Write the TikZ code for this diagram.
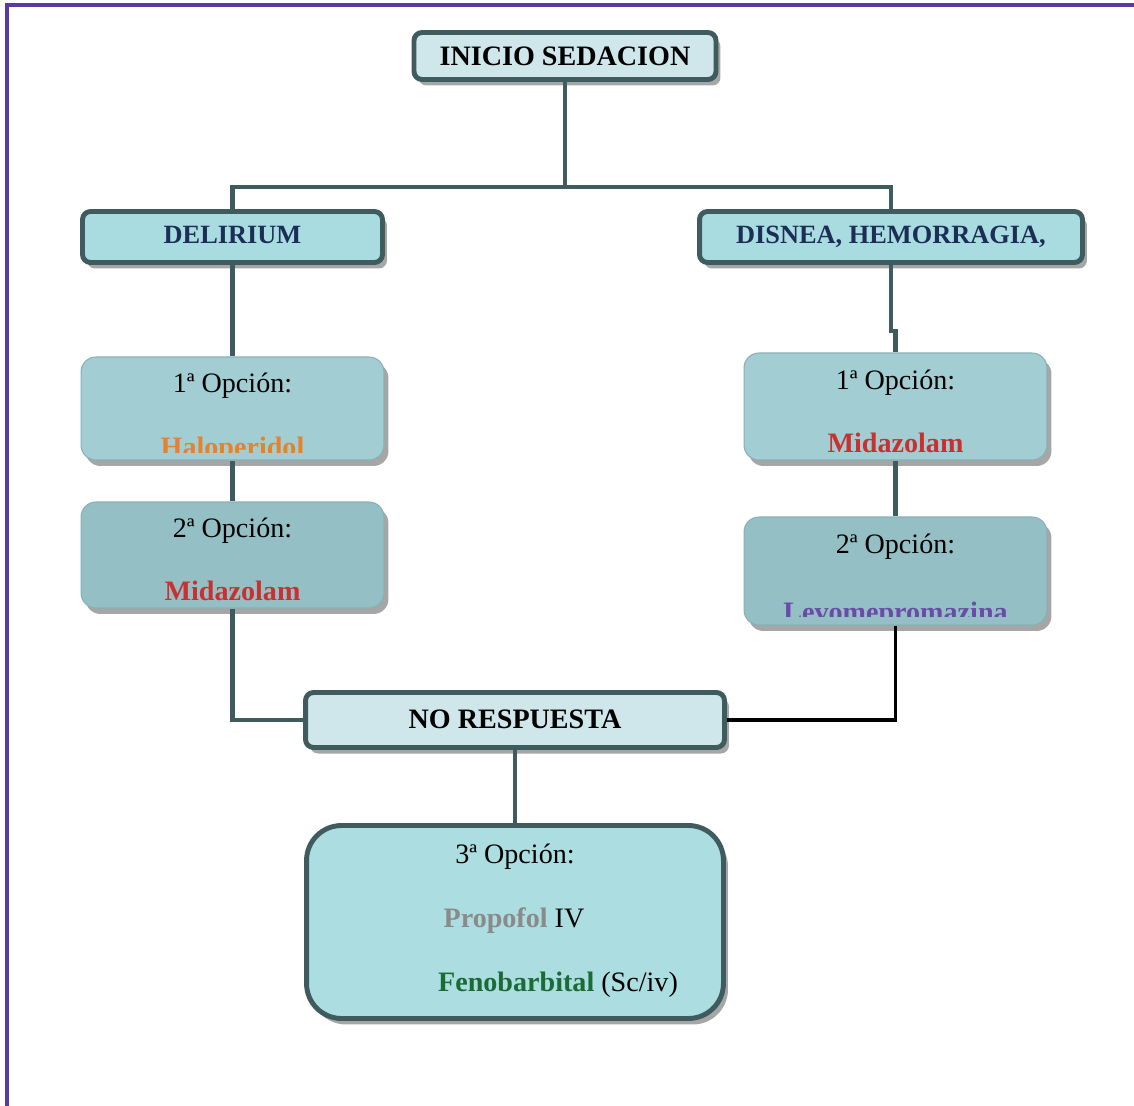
\documentclass[tikz,border=0pt]{standalone}
\usepackage{fontspec}
\setmainfont{Liberation Serif}
\usetikzlibrary{shadows}

\definecolor{edge}{HTML}{3F5B5E}
\definecolor{frame}{HTML}{5A3C9E}
\definecolor{palefill}{HTML}{CFE6EA}
\definecolor{headfill}{HTML}{A9DCE0}
\definecolor{optafill}{HTML}{A2CDD2}
\definecolor{optbfill}{HTML}{94C0C5}
\definecolor{lastfill}{HTML}{ACDDE0}
\definecolor{optedge}{HTML}{86B0B5}
\definecolor{navy}{HTML}{1C2E55}
\definecolor{drugorange}{HTML}{E4832F}
\definecolor{drugred}{HTML}{C8312F}
\definecolor{drugpurple}{HTML}{6A4BA8}
\definecolor{druggrey}{HTML}{8A8A8A}
\definecolor{druggreen}{HTML}{1A6B35}

\newcommand{\txtfont}{\fontsize{16}{19}\selectfont}
\newcommand{\hdfont}{\fontsize{15}{18}\selectfont\bfseries}

\tikzstyle{shade} = [drop shadow={fill=black, opacity=0.35, shadow xshift=0.09cm, shadow yshift=-0.12cm}]
\tikzstyle{titlebox} = [rectangle, rounded corners=0.16cm, draw=edge, line width=2.8pt, fill=palefill, inner sep=0pt, shade]
\tikzstyle{headbox} = [rectangle, rounded corners=0.16cm, draw=edge, line width=2.8pt, fill=headfill, inner sep=0pt, shade]
\tikzstyle{optbox} = [rectangle, rounded corners=0.3cm, draw=optedge, line width=0.6pt, inner sep=0pt, minimum width=6.06cm, shade]
\tikzstyle{txt} = [anchor=base, inner sep=0pt, font=\txtfont]
\tikzstyle{line} = [draw=edge, line width=2.3pt]

\begin{document}
\begin{tikzpicture}[x=0.02cm, y=-0.02cm]
\useasboundingbox (0,0) rectangle (1134,1106);

% frame
\draw[frame, line width=0.08cm] (7,1106) -- (7,5) -- (1134,5);

% top
\node (inicio) [titlebox, minimum width=6.04cm, minimum height=0.94cm] at (565,56) {};
\node (inicioT) [txt, font=\fontsize{16}{19}\selectfont\bfseries] at (565,65) {INICIO SEDACION};

\node (delirium) [headbox, minimum width=6cm, minimum height=1.02cm] at (232.5,237) {};
\node (deliriumT) [txt, font=\hdfont, text=navy] at (232.5,243) {DELIRIUM};
\node (disnea) [headbox, minimum width=7.66cm, minimum height=1.02cm] at (891,237) {};
\node (disneaT) [txt, font=\hdfont, text=navy] at (891,243) {DISNEA, HEMORRAGIA,};

% left column
\node (opt1l) [optbox, fill=optafill, minimum height=2.06cm] at (232.5,408.5) {};
\node (opt1lT) [txt] at (232.5,392) {1ª Opción:};
\begin{scope}
\clip (81,357) rectangle (385,452);
\node (halo) [txt, font=\txtfont\bfseries, text=drugorange] at (232.5,456) {Haloperidol};
\end{scope}

\node (opt2l) [optbox, fill=optbfill, minimum height=2.12cm] at (232.5,555) {};
\node (opt2lT) [txt] at (232.5,537) {2ª Opción:};
\node (mida1) [txt, font=\txtfont\bfseries, text=drugred] at (232.5,600) {Midazolam};

% right column
\node (opt1r) [optbox, fill=optafill, minimum height=2.14cm] at (895.5,406.5) {};
\node (opt1rT) [txt] at (895.5,389) {1ª Opción:};
\node (mida2) [txt, font=\txtfont\bfseries, text=drugred] at (895.5,452) {Midazolam};

\node (opt2r) [optbox, fill=optbfill, minimum height=2.16cm] at (895.5,571) {};
\node (opt2rT) [txt] at (895.5,553) {2ª Opción:};
\begin{scope}
\clip (744,517) rectangle (1047,616);
\node (levo) [txt, font=\txtfont\bfseries, text=drugpurple] at (895.5,621) {Levomepromazina};
\end{scope}

% bottom
\node (nores) [titlebox, minimum width=8.38cm, minimum height=1.1cm] at (515,720) {};
\node (noresT) [txt, font=\txtfont\bfseries] at (515,728) {NO RESPUESTA};

\node (last) [rectangle, rounded corners=0.7cm, draw=edge, line width=2.8pt, fill=lastfill, inner sep=0pt, minimum width=8.34cm, minimum height=3.86cm, shade] at (515,922) {};
\node (lastT) [txt] at (515,863) {3ª Opción:};
\node (propo) [txt] at (514,927) {\textbf{\textcolor{druggrey}{Propofol}} IV};
\node (feno) [txt] at (558,991) {\textbf{\textcolor{druggreen}{Fenobarbital}} (Sc/iv)};

% connectors
\coordinate (split) at (565,187);
\coordinate (jogR) at (895.5,331);
\draw[line] (inicio.south) -- (split);
\draw[line] (split) -| (delirium.north);
\draw[line] (split) -| (disnea.north);
\draw[line] (delirium.south) -- (opt1l.north);
\draw[line] (opt1l.south) -- (opt2l.north);
\draw[line] (opt2l.south) |- (nores.west);
\draw[line] (disnea.south) |- (jogR) -- (opt1r.north);
\draw[line] (opt1r.south) -- (opt2r.north);
\draw[black, line width=2pt] (opt2r.south) |- (nores.east);
\draw[line] (nores.south) -- (last.north);

\end{tikzpicture}
\end{document}
